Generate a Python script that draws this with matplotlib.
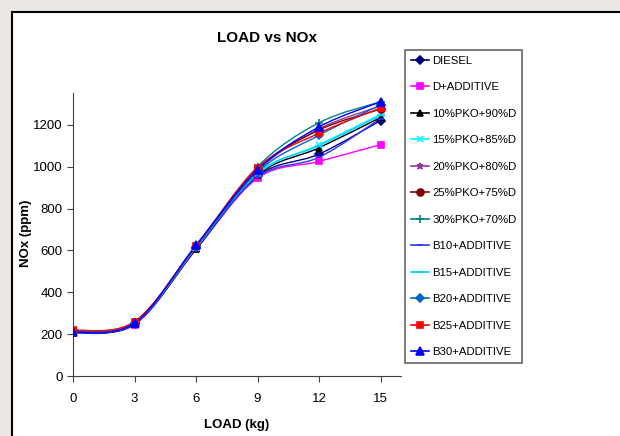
import matplotlib
matplotlib.use('Agg')
import matplotlib.pyplot as plt
from matplotlib.path import Path
from matplotlib.patches import PathPatch, Rectangle
from matplotlib.lines import Line2D
import numpy as np

plt.rcParams['font.family'] = ['Liberation Sans', 'DejaVu Sans']

load = [0, 3, 6, 9, 12, 15]
labels = ['DIESEL', 'D+ADDITIVE', '10%PKO+90%D', '15%PKO+85%D', '20%PKO+80%D',
          '25%PKO+75%D', '30%PKO+70%D', 'B10+ADDITIVE', 'B15+ADDITIVE',
          'B20+ADDITIVE', 'B25+ADDITIVE', 'B30+ADDITIVE']
diesel = [210, 250, 610, 955, 1060, 1220]
d_add = [215, 245, 605, 945, 1025, 1105]
pko10 = [205, 248, 605, 960, 1090, 1235]
pko15 = [208, 252, 612, 965, 1105, 1250]
pko20 = [212, 255, 618, 980, 1180, 1290]
pko25 = [215, 258, 620, 990, 1175, 1275]
pko30 = [210, 255, 620, 1000, 1210, 1310]
b10 = [205, 250, 610, 950, 1045, 1230]
b15 = [210, 252, 612, 970, 1100, 1245]
b20 = [212, 255, 615, 975, 1150, 1295]
b25 = [218, 260, 622, 995, 1160, 1280]
b30 = [208, 252, 625, 985, 1190, 1310]
series = [diesel, d_add, pko10, pko15, pko20, pko25, pko30, b10, b15, b20, b25, b30]

colors = ['#000080', '#FF00FF', '#000000', '#00FFFF', '#9933A0', '#800000',
          '#008080', '#3333FF', '#00CCFF', '#0066CC', '#FF0000', '#0000FF']
markers = ['D', 's', '^', 'x', '*', 'o', '+', '_', '_', 'D', 's', '^']
msizes = [4, 5, 5, 5, 5, 5, 6, 5, 6, 4, 5, 6]


def smooth_path(xs, ys):
    # Excel style smoothed line: Catmull-Rom segments as cubic Bezier
    pts = np.column_stack([xs, ys]).astype(float)
    n = len(pts)
    verts = [pts[0]]
    codes = [Path.MOVETO]
    for i in range(n - 1):
        p0 = pts[max(i - 1, 0)]
        p1 = pts[i]
        p2 = pts[i + 1]
        p3 = pts[min(i + 2, n - 1)]
        c1 = p1 + (p2 - p0) / 6.0
        c2 = p2 - (p3 - p1) / 6.0
        verts += [c1, c2, p2]
        codes += [Path.CURVE4] * 3
    return Path(verts, codes)


fig = plt.figure(figsize=(6.2, 4.36), dpi=100, facecolor='#ece7e2')
fig.patches.append(Rectangle((12 / 620, -0.01), 1.0, 1.01 - 12 / 436, transform=fig.transFigure,
                             facecolor='white', edgecolor='black', linewidth=1.5, zorder=-5))

ax = fig.add_axes([73 / 620, 1 - 376 / 436, 328 / 620, 283 / 436])
ax.set_facecolor('none')

handles = []
for i, (vals, lab) in enumerate(zip(series, labels)):
    ax.add_patch(PathPatch(smooth_path(load, vals), facecolor='none',
                           edgecolor=colors[i], linewidth=1.0, zorder=2 + i * 0.01))
    ax.plot(load, vals, linestyle='none', marker=markers[i], markersize=msizes[i],
            color=colors[i], markeredgecolor=colors[i], markeredgewidth=1.2, zorder=3)
    handles.append(Line2D([], [], color=colors[i], marker=markers[i], markersize=msizes[i],
                          markeredgecolor=colors[i], markeredgewidth=1.2, linewidth=1.2, label=lab))

ax.set_xlim(0, 16)
ax.set_ylim(0, 1352)
ax.set_xticks([0, 3, 6, 9, 12, 15])
ax.set_yticks([0, 200, 400, 600, 800, 1000, 1200])
ax.spines['top'].set_visible(False)
ax.spines['right'].set_visible(False)
for s in ['left', 'bottom']:
    ax.spines[s].set_color('#404040')
ax.tick_params(axis='both', labelsize=9.5, colors='black', length=4, color='#404040')
ax.tick_params(axis='x', pad=8)

fig.text(267 / 620, 1 - 38 / 436, 'LOAD vs NOx', ha='center', va='center',
         fontsize=11, fontweight='bold')
fig.text(237 / 620, 1 - 425 / 436, 'LOAD (kg)', ha='center', va='center',
         fontsize=9.5, fontweight='bold')
fig.text(26 / 620, 1 - 233 / 436, 'NOx (ppm)', ha='center', va='center',
         fontsize=9.5, fontweight='bold', rotation=90)

leg = fig.legend(handles=handles, loc='upper left', bbox_to_anchor=(405 / 620, 1 - 50 / 436),
                 fontsize=8.2, frameon=True, fancybox=False, handlelength=1.6,
                 handletextpad=0.3, labelspacing=1.45, borderpad=0.5, borderaxespad=0)
leg.get_frame().set_edgecolor('#404040')
leg.get_frame().set_linewidth(1.2)

fig.savefig('out.png', dpi=100, facecolor=fig.get_facecolor())
plt.close()
